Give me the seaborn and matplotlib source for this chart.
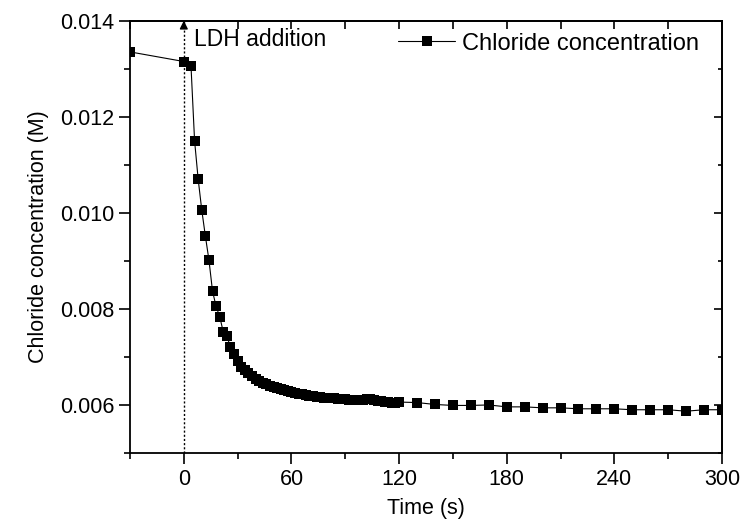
import matplotlib
matplotlib.use("Agg")
import matplotlib.pyplot as plt
import seaborn as sns
import pandas as pd
from matplotlib.ticker import MultipleLocator

# ---- data ----
time_s = [-30, 0, 4, 6, 8, 10, 12, 14, 16, 18, 20, 22, 24, 26, 28, 30,
          32, 34, 36, 38, 40, 42, 44, 46, 48, 50, 52, 54, 56, 58, 60,
          62, 64, 66, 68, 70, 72, 74, 76, 78, 80, 82, 84, 86, 88, 90,
          92, 94, 96, 98, 100, 102, 104, 106, 108, 110, 112, 114, 116, 118, 120,
          130, 140, 150, 160, 170, 180, 190, 200, 210, 220, 230, 240, 250,
          260, 270, 280, 290, 300]
chloride_M = [0.01335, 0.01315, 0.01306, 0.01150, 0.01070, 0.01006, 0.00952, 0.00902,
              0.00837, 0.00805, 0.00784, 0.00752, 0.00743, 0.00721, 0.00706, 0.00692,
              0.00680, 0.00673, 0.00667, 0.00661, 0.00655, 0.00650, 0.00646, 0.00643,
              0.00640, 0.00637, 0.00635, 0.00633, 0.00631, 0.00629, 0.00627,
              0.00625, 0.00623, 0.00622, 0.00620, 0.00619, 0.00618, 0.00617, 0.00616,
              0.00615, 0.00615, 0.00614, 0.00614, 0.00613, 0.00612, 0.00612,
              0.00611, 0.00611, 0.00610, 0.00610, 0.00611, 0.00612, 0.00612, 0.00611,
              0.00609, 0.00608, 0.00607, 0.00606, 0.00605, 0.00605, 0.00606,
              0.00605, 0.00601, 0.00599, 0.00599, 0.00600, 0.00596, 0.00596, 0.00594,
              0.00594, 0.00592, 0.00592, 0.00592, 0.00590, 0.00590, 0.00590,
              0.00587, 0.00590, 0.00590]
series_name = "Chloride concentration"
x_ticks = [0, 60, 120, 180, 240, 300]
y_ticks = [0.006, 0.008, 0.010, 0.012, 0.014]

df = pd.DataFrame({"Time (s)": time_s, "Chloride concentration (M)": chloride_M,
                   "series": series_name})

sns.set_style("ticks")
plt.rcParams["font.family"] = ["Liberation Sans", "DejaVu Sans"]
plt.rcParams.update({"text.color": "black", "axes.labelcolor": "black",
                     "xtick.color": "black", "ytick.color": "black",
                     "axes.edgecolor": "black"})

fig = plt.figure(figsize=(7.42, 5.29), dpi=100)
ax = fig.add_axes([0.1752, 0.1437, 0.973 - 0.1752, 0.9609 - 0.1437])

sns.lineplot(data=df, x="Time (s)", y="Chloride concentration (M)", hue="series",
             palette=["black"], marker="s", markersize=7.5, markeredgewidth=0,
             linewidth=0.8, ax=ax, sort=False, clip_on=True)

ax.set_xlim(-30, 300)
ax.set_ylim(0.005, 0.014)
ax.set_xticks(x_ticks)
ax.set_yticks(y_ticks)
ax.set_yticklabels([f"{v:.3f}" for v in y_ticks])
ax.xaxis.set_minor_locator(MultipleLocator(30))
ax.yaxis.set_minor_locator(MultipleLocator(0.001))
ax.tick_params(which="major", direction="out", length=8, width=1.2, labelsize=15.5,
               colors="black", top=False, right=False)
ax.tick_params(which="minor", direction="out", length=4, width=1.2, top=False, right=False)
for s in ax.spines.values():
    s.set_visible(True)
    s.set_linewidth(1.3)
    s.set_color("black")

# mirrored inward ticks on top and right
top = ax.secondary_xaxis("top")
top.set_xticks(x_ticks)
top.xaxis.set_minor_locator(MultipleLocator(30))
top.tick_params(which="both", direction="in", length=6, width=1.2, labeltop=False)
top.spines["top"].set_linewidth(1.3)
right = ax.secondary_yaxis("right")
right.set_yticks(y_ticks)
right.yaxis.set_minor_locator(MultipleLocator(0.001))
right.tick_params(which="major", direction="in", length=6, width=1.2, labelright=False)
right.tick_params(which="minor", direction="in", length=3, width=1.2, labelright=False)
right.spines["right"].set_linewidth(1.3)

ax.set_xlabel("Time (s)", fontsize=15.5, labelpad=6, color="black")
ax.set_ylabel("Chloride concentration (M)", fontsize=15.5, labelpad=8, color="black")

# LDH addition marker
ax.axvline(0, color="black", linestyle=(0, (1.5, 1.5)), linewidth=1.0, zorder=1)
ax.annotate("", xy=(0, 0.014), xytext=(0, 0.01386),
            arrowprops=dict(arrowstyle="-|>", color="black", lw=1.0,
                            mutation_scale=12, shrinkA=0, shrinkB=0))
ax.text(5.4, 0.01360, "LDH addition", fontsize=16.5, va="center", ha="left",
        color="black")

leg = ax.legend(loc="upper right", frameon=False, fontsize=17, handlelength=2.4,
                handletextpad=0.3, borderaxespad=0.2,
                bbox_to_anchor=(0.985, 1.005))

fig.savefig("out.png", dpi=100)
